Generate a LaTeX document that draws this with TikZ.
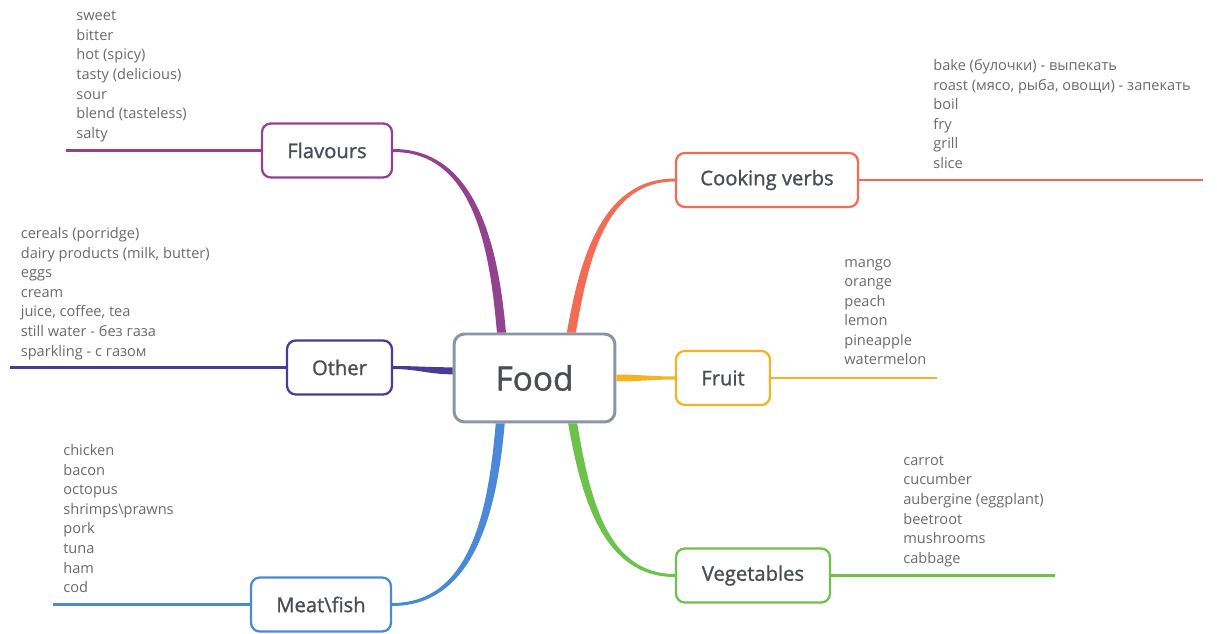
\documentclass[tikz,border=0pt]{standalone}
\usepackage{fontspec}
\setmainfont{Open Sans}
\newfontfamily\topicfont[FakeBold=1.2]{Open Sans}
\usetikzlibrary{positioning}

\definecolor{flavcol}{HTML}{93428F}
\definecolor{othercol}{HTML}{4B3A96}
\definecolor{meatcol}{HTML}{4A88D8}
\definecolor{cookcol}{HTML}{F26B55}
\definecolor{fruitcol}{HTML}{F5B324}
\definecolor{vegcol}{HTML}{6CC24A}
\definecolor{foodcol}{HTML}{8C95A6}
\definecolor{darktext}{HTML}{4A4D55}
\definecolor{greytext}{HTML}{6A6A6E}

\tikzset{
  topic/.style={draw, rounded corners=5pt, line width=1.3pt, fill=white,
    minimum height=1.08cm, text=darktext, font=\topicfont\fontsize{11.5}{13}\selectfont},
  item/.style={anchor=base west, inner sep=0pt, text=greytext,
    font=\fontsize{8.3}{10}\selectfont},
  leg/.style={line width=1.5pt},
}

\begin{document}
\begin{tikzpicture}[x=0.02cm, y=-0.02cm]
    \useasboundingbox (0, 0) rectangle (1217, 634);

    % centre
    \node[topic, draw=foodcol, line width=1.7pt, rounded corners=6pt,
      minimum width=3.22cm, minimum height=1.76cm,
      font=\topicfont\fontsize{19}{22}\selectfont] (food) at (534.5, 378) {Food};

    % branches
    \node[topic, draw=flavcol, minimum width=2.6cm] (flav) at (327, 150.5) {Flavours};
    \node[topic, draw=othercol, minimum width=2.1cm] (other) at (339.5, 367.5) {Other};
    \node[topic, draw=meatcol, minimum width=2.8cm] (meat) at (321, 604.5) {Meat\textbackslash fish};
    \node[topic, draw=cookcol, minimum width=3.64cm] (cook) at (767, 180) {Cooking verbs};
    \node[topic, draw=fruitcol, minimum width=1.88cm] (fruit) at (723, 378) {Fruit};
    \node[topic, draw=vegcol, minimum width=3.08cm] (veg) at (753, 575.5) {Vegetables};

    % ends of the lines
    \coordinate (flav-end) at (66, 150.5);
    \coordinate (other-end) at (10, 367.5);
    \coordinate (meat-end) at (53, 604.5);
    \coordinate (cook-end) at (1203, 180);
    \coordinate (fruit-end) at (937, 378);
    \coordinate (veg-end) at (1055, 575.5);

    \draw[leg, flavcol] (flav.west) -- (flav-end);
    \draw[leg, othercol] (other.west) -- (other-end);
    \draw[leg, meatcol] (meat.west) -- (meat-end);
    \draw[leg, cookcol] (cook.east) -- (cook-end);
    \draw[leg, fruitcol] (fruit.east) -- (fruit-end);
    \draw[leg, vegcol] (veg.east) -- (veg-end);

    % thick connectors
    \fill[flavcol] ([xshift=-0.09cm]food.126) to[out=95, in=0] ([yshift=-0.03cm]flav.east)
      -- ([yshift=0.03cm]flav.east) to[out=0, in=95] ([xshift=0.09cm]food.126) -- cycle;
    \fill[cookcol] ([xshift=-0.09cm]food.51) to[out=80, in=180] ([yshift=0.03cm]cook.west)
      -- ([yshift=-0.03cm]cook.west) to[out=180, in=80] ([xshift=0.09cm]food.51) -- cycle;
    \fill[meatcol] ([xshift=0.09cm]food.233) to[out=265, in=0] ([yshift=-0.03cm]meat.east)
      -- ([yshift=0.03cm]meat.east) to[out=0, in=265] ([xshift=-0.09cm]food.233) -- cycle;
    \fill[vegcol] ([xshift=0.09cm]food.310) to[out=280, in=180] ([yshift=0.03cm]veg.west)
      -- ([yshift=-0.03cm]veg.west) to[out=180, in=280] ([xshift=-0.09cm]food.310) -- cycle;
    \fill[othercol] ([yshift=0.07cm]food.175) to[out=180, in=0] ([yshift=0.03cm]other.east)
      -- ([yshift=-0.03cm]other.east) to[out=0, in=180] ([yshift=-0.07cm]food.175) -- cycle;
    \fill[fruitcol] ([yshift=0.07cm]food.east) to[out=0, in=180] ([yshift=0.03cm]fruit.west)
      -- ([yshift=-0.03cm]fruit.west) to[out=180, in=0] ([yshift=-0.07cm]food.east) -- cycle;

    % word lists
    \foreach \t [count=\i] in {sweet, bitter, hot (spicy), tasty (delicious), sour,
        blend (tasteless), salty}
      \node[item] (flav-\i) at (76, 20.5 + 19.7*\i - 19.7) {\t};
    \foreach \t [count=\i] in {cereals (porridge), {dairy products (milk, butter)}, eggs,
        cream, {juice, coffee, tea}, still water - без газа, sparkling - с газом}
      \node[item] (other-\i) at (20.5, 238.5 + 19.6*\i - 19.6) {\t};
    \foreach \t [count=\i] in {chicken, bacon, octopus, shrimps\textbackslash prawns,
        pork, tuna, ham, cod}
      \node[item] (meat-\i) at (63, 455.5 + 19.6*\i - 19.6) {\t};
    \foreach \t [count=\i] in {bake (булочки) - выпекать,
        {roast (мясо, рыба, овощи) - запекать}, boil, fry, grill, slice}
      \node[item] (cook-\i) at (933, 70.5 + 19.6*\i - 19.6) {\t};
    \foreach \t [count=\i] in {mango, orange, peach, lemon, pineapple, watermelon}
      \node[item] (fruit-\i) at (844, 267.5 + 19.5*\i - 19.5) {\t};
    \foreach \t [count=\i] in {carrot, cucumber, aubergine (eggplant), beetroot,
        mushrooms, cabbage}
      \node[item] (veg-\i) at (903, 465.5 + 19.5*\i - 19.5) {\t};

\end{tikzpicture}
\end{document}
